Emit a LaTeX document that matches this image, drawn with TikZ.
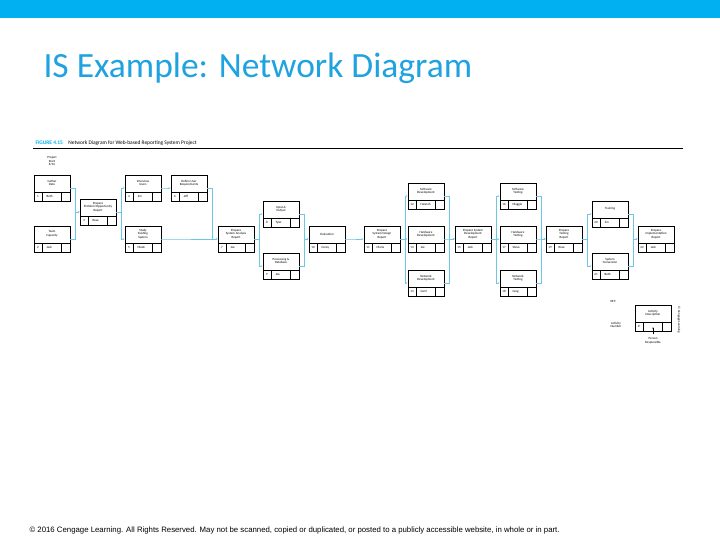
\documentclass[tikz,border=0pt]{standalone}
\usepackage{fontspec}
\setmainfont{Carlito}
\newfontfamily\footfont{Liberation Sans}
\usetikzlibrary{arrows.meta}
\definecolor{teal}{HTML}{00B0F0}
\definecolor{titleblue}{HTML}{1FA2E0}
\definecolor{wire}{HTML}{6CC7E6}

\begin{document}
\begin{tikzpicture}[x=1pt,y=-1pt,
	box/.style={draw,line width=0.35pt,minimum width=36pt,minimum height=26pt,inner sep=0pt},
	tiny/.style={font=\fontsize{3.2}{3.6}\selectfont,align=center},
	conn/.style={draw=wire,line width=0.6pt,-{Latex[length=2pt,width=1.6pt]}}]

\useasboundingbox (0,0) rectangle (720,540);
\fill[teal] (0,0) rectangle (720,18);
\node[anchor=west,text=titleblue,font=\fontsize{35.5}{40}\selectfont] (title) at (40,68) {IS Example: Network Diagram};

% Kopfzeile der Abbildung
\node[anchor=west,font=\fontsize{5.4}{6}\selectfont] (cap) at (32,143)
	{\textbf{\color{teal}FIGURE 4.15}\quad Network Diagram for Web-based Reporting System Project};
\draw[line width=0.5pt] (33,148) -- (683,148);

\def\act#1#2#3#4#5#6{
	\node[box] (#1) at (#2+18,#3+13) {};
	\draw[line width=0.35pt] (#2,#3+17) -- (#2+36,#3+17);
	\draw[line width=0.35pt] (#2+8,#3+17) -- (#2+8,#3+26);
	\draw[line width=0.35pt] (#2+27,#3+17) -- (#2+27,#3+26);
	\node[tiny] at (#2+18,#3+8) {#4};
	\node[tiny] at (#2+4,#3+21.5) {#5};
	\node[tiny,anchor=west] at (#2+9,#3+21.5) {#6};
}

\node[tiny] (start) at (52,161) {Project\\Start\\8/16};

\act{a1}{34}{175}{Gather\\Data}{1}{Beth}
\act{a2}{34}{226}{Team\\Capacity}{2}{Jack}
\act{a3}{80}{199}{Prepare\\Problem/Opportunity\\Report}{3}{Rose}
\act{a4}{125}{175}{Interview\\Users}{4}{Jim}
\act{a6}{171}{175}{Define User\\Requirements}{6}{Jeff}
\act{a5}{125}{226}{Study\\Existing\\System}{5}{Meek}
\act{a7}{218}{226}{Prepare\\System Analysis\\Report}{7}{Joe}
\act{a8}{263}{201}{Input \&\\Output}{8}{Tyler}
\act{a9}{263}{253}{Processing \&\\Database}{9}{Joe}
\act{a10}{309}{226}{Evaluation}{10}{Corey}
\act{a11}{364}{226}{Prepare\\System Design\\Report}{11}{Maria}
\act{a12}{408}{183}{Software\\Development}{12}{Hannah}
\act{a13}{408}{226}{Hardware\\Development}{13}{Joe}
\act{a14}{408}{270}{Network\\Development}{14}{Gerri}
\act{a15}{455}{226}{Prepare System\\Development\\Report}{15}{Jack}
\act{a16}{500}{183}{Software\\Testing}{16}{Maggie}
\act{a17}{500}{226}{Hardware\\Testing}{17}{Steve}
\act{a18}{500}{270}{Network\\Testing}{18}{Greg}
\act{a19}{546}{226}{Prepare\\Testing\\Report}{19}{Rose}
\act{a20}{592}{201}{Training}{20}{Jim}
\act{a21}{592}{253}{System\\Conversion}{21}{Beth}
\act{a22}{638}{226}{Prepare\\Implementation\\Report}{22}{Jack}

% Verbindungen
\foreach \a/\b in {a1/a3,a2/a3,a3/a4,a3/a5,a4/a6,a6/a7,a5/a7,a7/a8,a7/a9,a8/a10,a9/a10,
	a10/a11,a11/a12,a11/a13,a11/a14,a12/a15,a13/a15,a14/a15,a15/a16,a15/a17,a15/a18,
	a16/a19,a17/a19,a18/a19,a19/a20,a19/a21,a20/a22,a21/a22}
	\draw[conn] (\a.east) -- ++(5,0) |- (\b.west);

% Legende
\node[tiny,anchor=west] (key) at (607,301) {KEY:};
\act{k}{635}{305}{Activity\\Description}{\#}{}
\node[tiny] (knum) at (616,325) {Activity\\Number};
\node[tiny] (kper) at (653,341) {Person\\Responsible};
\draw[line width=0.3pt,-{Latex[length=1.5pt,width=1.2pt]}] (kper.north) -- (653,327);
\node[tiny,rotate=-90] (copy) at (679,320) {\textcopyright{} Cengage Learning};

\node[anchor=west,font=\footfont\fontsize{7.8}{8}\selectfont] (foot) at (26,530)
	{\textcopyright{} 2016 Cengage Learning. All Rights Reserved. May not be scanned, copied or duplicated, or posted to a publicly accessible website, in whole or in part.};
\end{tikzpicture}
\end{document}
